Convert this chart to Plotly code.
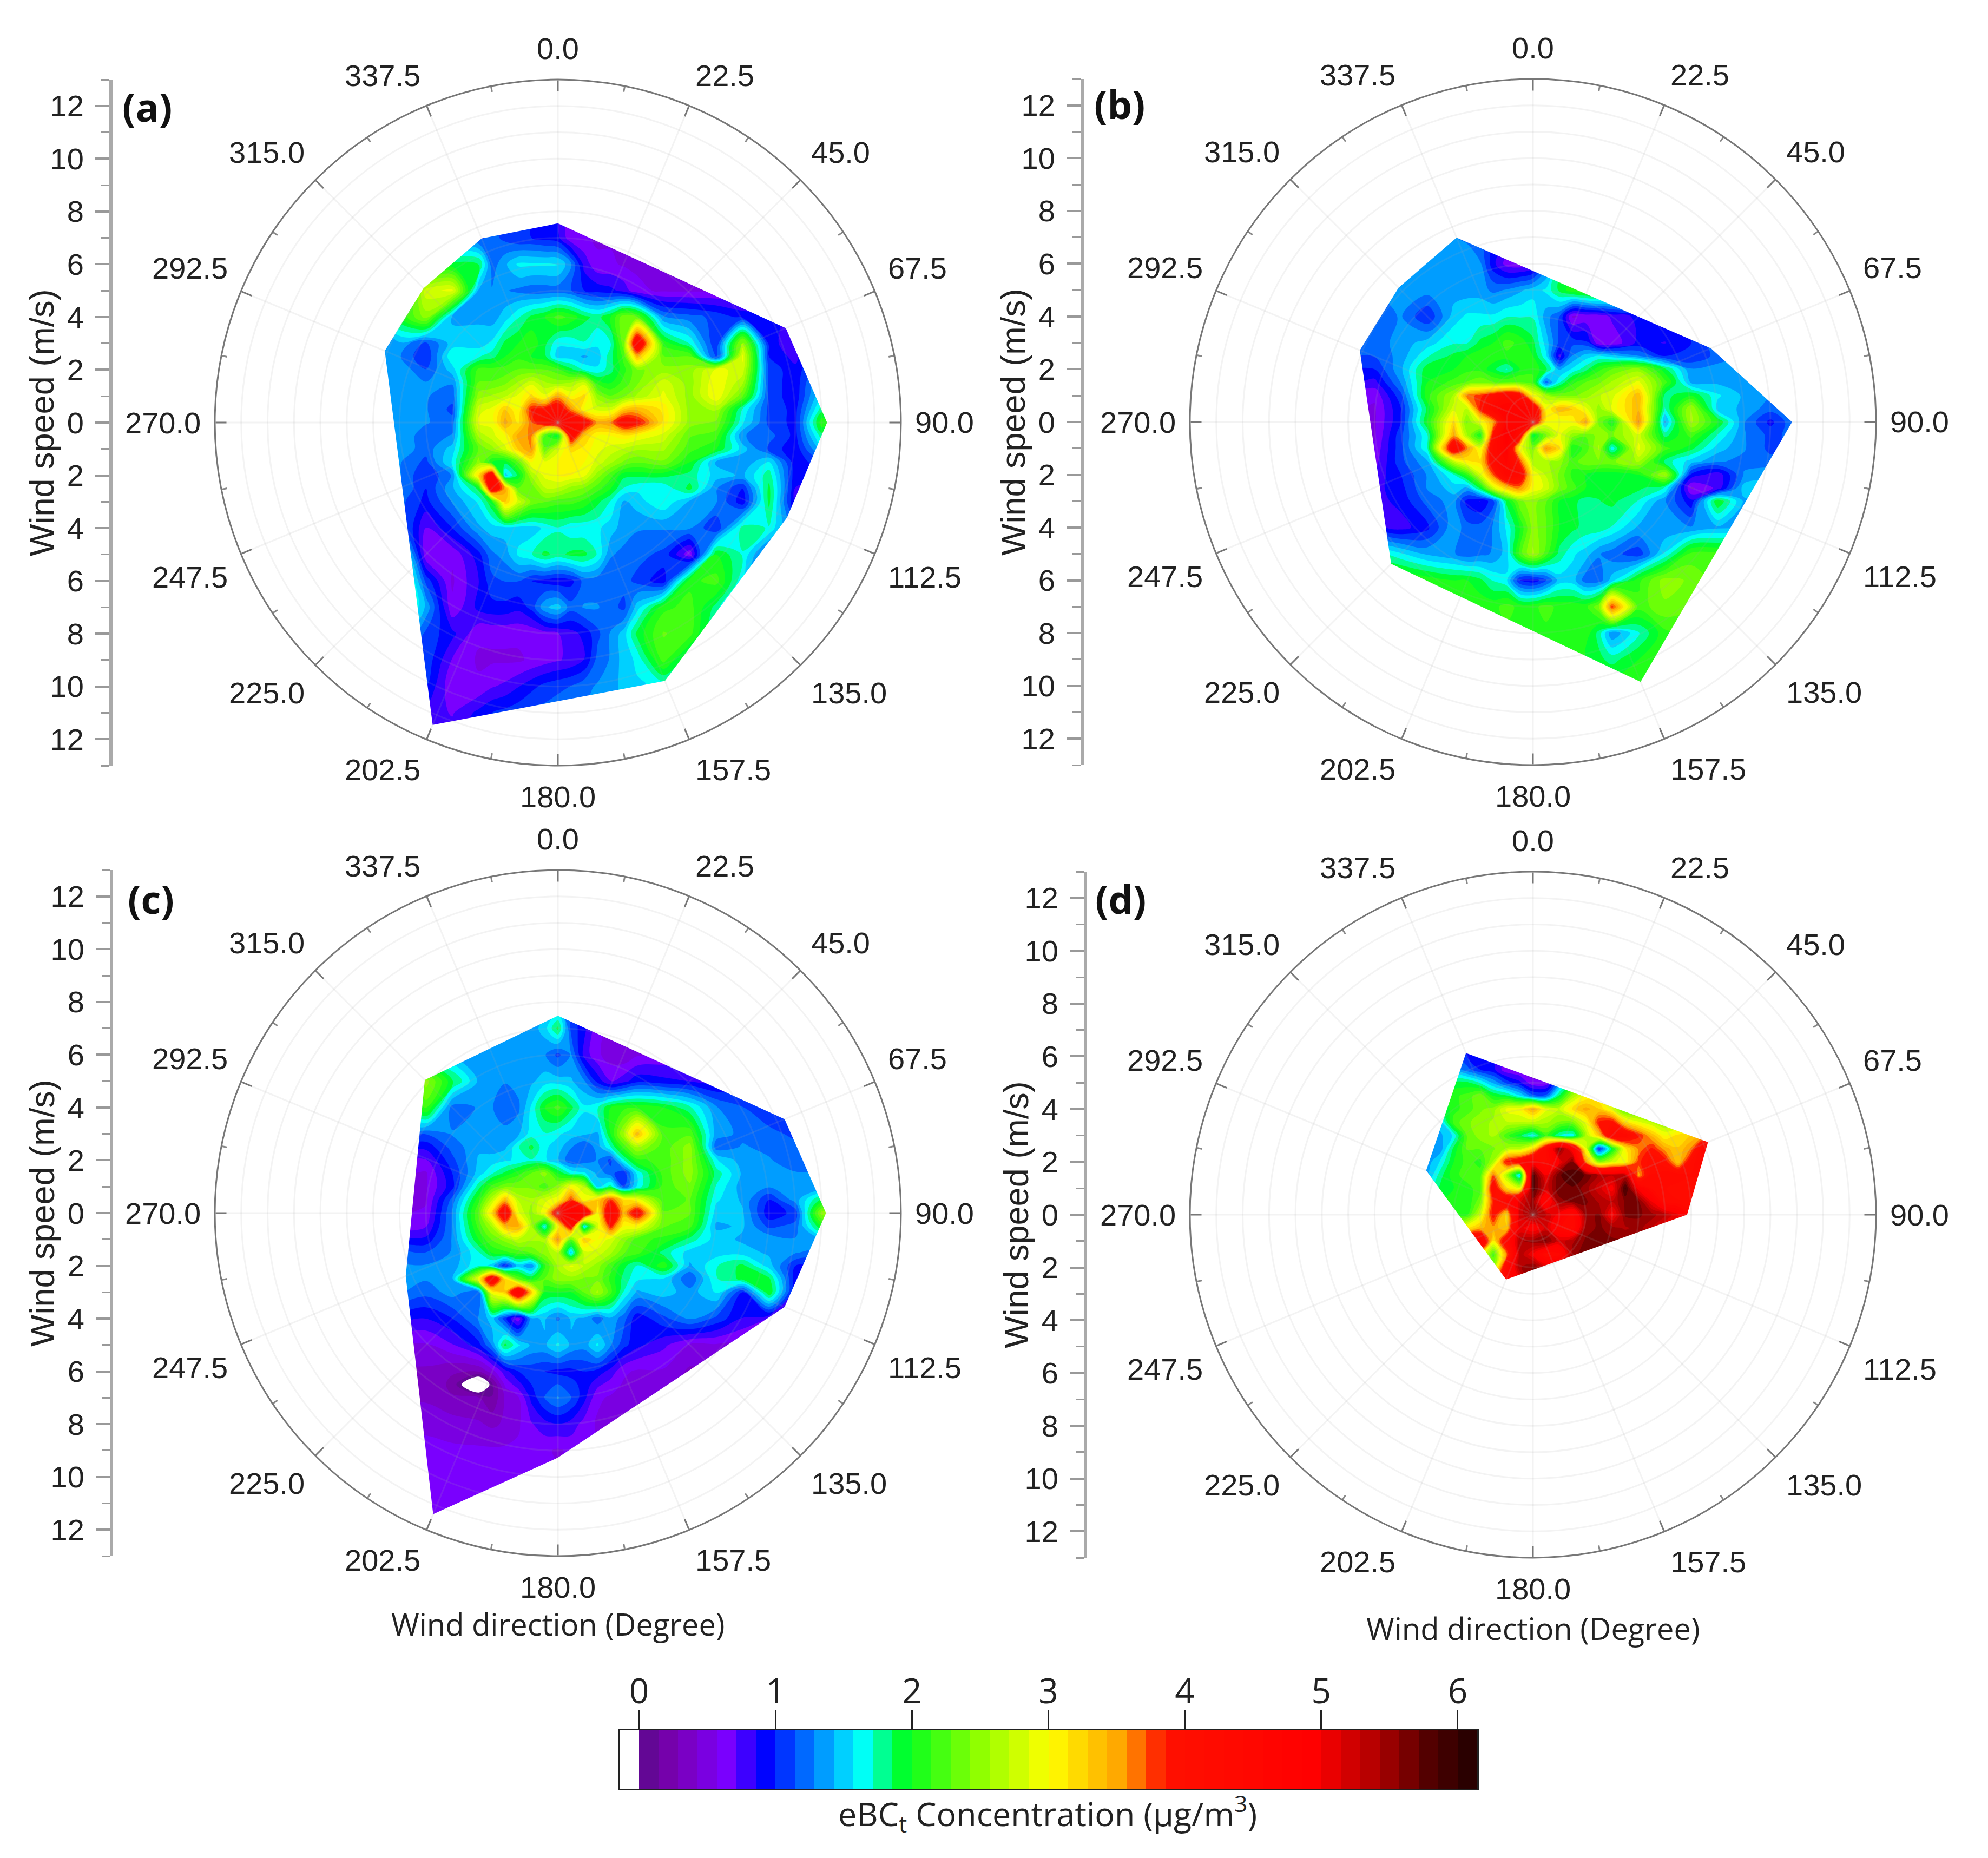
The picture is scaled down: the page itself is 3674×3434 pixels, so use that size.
import numpy as np
import plotly.graph_objects as go

WIDTH, HEIGHT = 3674, 3434

# grid the concentration was read on (m/s east / north of the origin)
xs_abc = [-7, -6, -5, -4, -3, -2.5, -2, -1.5, -1, -.5, 0, .5, 1, 1.5, 2, 2.5, 3, 4, 5, 6, 7, 8, 9, 10, 11]
ys_a = [8, 7, 6, 5, 4, 3, 2.5, 2, 1.5, 1, .5, 0, -.5, -1, -1.5, -2, -2.5, -3, -4, -5, -6, -7, -8, -9, -10, -11, -12]
ys_b = [8, 7, 6, 5, 4, 3, 2.5, 2, 1.5, 1, .5, 0, -.5, -1, -1.5, -2, -2.5, -3, -4, -5, -6, -7, -8, -9, -10, -11]
ys_c = [8, 7, 6, 5, 4, 3, 2.5, 2, 1.5, 1, .5, 0, -.5, -1, -1.5, -2, -2.5, -3, -4, -5, -6, -6.5, -7, -8, -9, -10, -11, -12]
xs_d = [-4.5, -4, -3.5, -3, -2.5, -2, -1.5, -1, -.5, 0, .5, 1, 1.5, 2, 2.5, 3, 3.5, 4, 4.5, 5, 5.5, 6, 6.5, 7]
ys_d = [7, 6.5, 6, 5.5, 5, 4.5, 4, 3.5, 3, 2.5, 2, 1.5, 1, .5, 0, -.5, -1, -1.5, -2, -2.5, -3]

conc_a = [
    [1.2,1.2,1.2,1.2,1.2, 1.2,1.1,1.0,1.0,.95, .9,.6,.6,.6,.6, .6,.6,.6,.6,.6, .6,.6,.6,.6,.6],
    [1.2,1.2,1.2,1.2,1.1, 1.2,1.1,1.0,1.0,.95, .9,.6,.6,.55,.55, .55,.55,.55,.55,.55, .55,.55,.55,.55,.55],
    [1.5,1.5,1.6,1.9,1.9, 1.2,1.4,1.6,1.6,1.6, 1.6,1.3,.8,.6,.6, .55,.55,.55,.55,.55, .55,.55,.55,.55,.55],
    [1.5,1.5,2.8,2.9,1.4, 1.3,1.3,1.25,1.2,1.2, 1.2,1.15,1.0,.95,.9, .8,.6,.55,.55,.55, .55,.55,.55,.55,.55],
    [1.3,2.0,2.5,1.4,1.4, 1.35,1.5,1.7,1.9,2.0, 2.2,2.1,1.9,1.8,2.0, 2.4,2.3,1.3,1.2,1.1, .95,.9,.8,.8,.8],
    [1.3,1.4,1.1,1.5,1.5, 1.6,1.9,2.0,2.1,1.9, 1.6,1.6,1.7,1.6,1.7, 2.4,4.5,2.1,1.7,1.0, 2.6,.95,.7,1.0,1.0],
    [1.3,1.3,1.0,1.7,1.7, 1.8,2.0,2.1,2.0,1.9, 1.5,1.5,1.4,1.5,1.8, 2.2,3.4,2.3,2.3,1.0, 2.9,1.0,.8,1.2,1.2],
    [1.3,1.4,1.15,1.5,2.2, 2.2,2.2,2.3,2.3,2.3, 2.2,1.9,1.7,1.6,1.8, 2.1,2.4,2.5,2.5,2.9, 2.8,1.1,.9,1.3,1.3],
    [1.3,1.4,1.3,1.3,2.3, 2.3,2.4,2.6,2.8,2.6, 2.5,2.6,2.8,2.1,2.0, 2.2,2.4,2.8,2.5,3.0, 2.6,1.1,.9,1.5,1.5],
    [1.4,1.4,1.3,1.2,2.5, 2.6,2.7,2.9,3.2,2.9, 3.5,3.0,3.2,2.5,2.3, 2.4,2.6,2.9,2.5,3.0, 2.3,1.1,.9,1.6,1.6],
    [1.4,1.4,1.3,1.1,2.8, 2.9,3.3,3.0,3.9,4.0, 4.2,3.6,3.0,2.8,2.8, 3.3,3.4,3.1,2.5,2.6, 1.7,1.1,.95,1.8,1.8],
    [1.4,1.4,1.3,1.2,2.9, 2.9,3.5,3.1,3.7,4.2, 4.5,4.4,4.2,3.5,3.6, 4.2,4.0,3.1,2.5,2.4, 1.6,1.1,.95,2.1,2.0],
    [1.4,1.4,1.2,1.3,2.6, 2.8,3.0,3.5,3.6,2.2, 1.9,4.2,3.3,3.0,3.0, 3.1,3.0,2.8,2.3,2.2, 1.3,1.2,.95,1.8,1.8],
    [1.4,1.4,1.2,1.5,2.3, 2.5,2.8,3.3,3.6,2.3, 2.8,3.2,3.1,2.9,2.8, 2.7,2.6,2.6,2.2,2.0, 1.5,1.1,.9,1.5,1.5],
    [1.4,1.3,1.1,1.6,2.5, 2.0,1.9,2.3,3.0,2.9, 3.0,3.0,3.0,2.8,2.6, 2.4,2.3,2.4,2.0,1.4, 1.3,1.6,.9,1.1,1.1],
    [1.4,1.3,1.0,1.3,3.2, 4.4,1.5,1.9,2.6,2.9, 3.0,3.0,2.9,2.5,2.2, 1.9,1.9,1.9,1.8,1.5, 1.4,1.8,.9,.9,.9],
    [1.4,1.3,1.0,1.4,1.9, 4.4,3.5,2.3,2.3,2.7, 2.7,2.5,2.4,2.2,2.0, 1.7,1.6,1.6,1.9,1.3, 1.0,1.9,.85,.8,.8],
    [1.4,1.2,.95,1.3,1.6, 2.0,3.3,2.8,2.4,2.3, 2.2,2.2,2.1,1.9,1.7, 1.4,1.5,1.7,1.4,1.3, .9,1.9,.8,.7,.7],
    [1.4,1.3,.7,1.0,1.4, 1.5,1.5,1.5,1.5,1.6, 1.7,1.6,1.6,1.6,1.5, 1.35,1.3,1.3,1.3,1.0, 1.8,1.7,1.1,.8,.8],
    [2.0,2.0,.6,.6,.95, 1.25,1.35,1.6,1.7,1.9, 1.8,1.9,1.9,1.7,1.3, 1.25,1.2,1.1,.6,2.0, 1.7,1.1,.9,.8,.8],
    [2.2,2.2,1.1,.55,.85, 1.1,1.15,1.15,1.0,.95, .9,.95,1.2,1.2,1.2, 1.2,1.1,.9,2.1,2.2, 1.6,.9,.9,.9,.9],
    [2.0,2.0,1.4,.6,.9, .95,.95,.9,1.05,1.4, 1.5,1.2,1.3,1.3,1.2, 1.1,1.5,2.1,2.2,1.8, 1.1,.9,.9,.9,.9],
    [1.6,1.6,1.1,.9,.6, .6,.6,.6,.6,.65, .7,.8,.9,1.1,1.3, 1.5,1.9,2.3,2.2,1.6, .9,.9,.9,.9,.9],
    [1.1,1.1,1.1,.7,.55, .55,.55,.55,.6,.65, .7,.75,.85,1.2,1.3, 1.5,1.6,2.2,1.7,1.5, .9,.9,.9,.9,.9],
    [1.0,1.0,1.0,.6,.6, .7,.75,.85,.95,1.05, 1.1,1.15,1.25,1.3,1.4, 1.45,1.55,1.6,1.7,1.6, .9,.9,.9,.9,.9],
    [.8,.8,.8,.7,.9, 1.0,1.05,1.1,1.2,1.2, 1.25,1.3,1.3,1.35,1.4, 1.45,1.5,1.6,1.6,1.6, 1.6,1.6,1.6,1.6,1.6],
    [.8,.8,.8,.8,1.0, 1.0,1.1,1.1,1.2,1.2, 1.3,1.3,1.3,1.4,1.4, 1.5,1.5,1.6,1.6,1.6, 1.6,1.6,1.6,1.6,1.6],
]

conc_b = [
    [1.3,1.3,1.3,1.3,1.3, 1.3,1.3,1.0,1.0,1.0, 1.0,1.0,1.0,1.0,1.0, 1.0,1.0,1.0,1.0,1.0, 1.0,1.0,1.0,1.0,1.0],
    [1.3,1.3,1.3,1.3,1.3, 1.25,1.2,1.0,.9,.8, .8,1.0,1.8,1.8,1.8, 1.8,1.8,1.8,1.8,1.8, 1.8,1.8,1.8,1.8,1.8],
    [1.3,1.3,1.3,1.3,1.4, 1.4,1.3,.9,.65,.6, .7,1.2,1.8,1.8,1.8, 1.8,1.8,1.8,1.8,1.8, 1.8,1.8,1.8,1.8,1.8],
    [1.3,1.3,1.3,1.35,1.35, 1.35,1.35,1.25,1.3,1.4, 1.5,1.6,1.9,2.1,2.2, 2.3,2.2,2.0,1.5,1.2, 1.2,1.2,1.2,1.2,1.2],
    [1.2,1.2,1.3,1.0,1.5, 1.6,1.6,1.6,1.7,1.7, 1.7,1.35,1.15,.55,.6, .6,.75,.9,1.0,1.1, 1.2,1.2,1.2,1.2,1.2],
    [1.15,1.2,1.35,1.5,1.7, 1.7,1.9,2.0,2.2,2.1, 1.9,1.5,1.1,1.1,1.05, .6,.6,.9,.85,1.0, 1.25,1.2,1.2,1.2,1.2],
    [1.15,1.15,1.35,1.7,1.9, 2.0,2.1,2.1,2.1,2.1, 2.0,1.6,.8,1.3,1.5, 1.6,1.5,1.3,1.0,1.0, 1.2,1.3,1.3,1.3,1.3],
    [1.0,1.0,1.4,1.95,2.0, 2.1,2.1,1.9,1.7,2.0, 2.1,1.9,1.4,1.6,1.8, 2.1,2.3,2.5,1.9,1.3, 1.35,1.35,1.3,1.3,1.3],
    [.9,.8,1.3,2.0,2.2, 2.3,2.4,2.3,2.3,2.3, 2.2,1.2,1.7,2.1,2.3, 2.4,2.6,2.9,2.2,1.4, 1.4,1.35,1.3,1.3,1.3],
    [.7,.6,1.1,2.1,2.6, 3.6,3.8,4.1,4.4,4.2, 3.0,2.6,2.4,2.4,2.5, 2.7,2.8,3.4,1.8,2.0, 1.6,1.4,1.3,1.3,1.3],
    [.6,.55,1.0,1.9,2.8, 2.7,3.9,4.5,4.7,4.7, 4.5,3.0,3.4,3.3,2.9, 2.5,2.9,3.4,1.7,2.6, 1.5,1.4,1.2,1.2,1.2],
    [.55,.55,1.0,2.0,3.2, 2.4,2.9,3.5,4.6,4.7, 4.4,3.0,2.9,3.0,3.5, 2.4,2.0,3.6,1.4,2.6, 2.0,1.3,.95,1.3,1.3],
    [.6,.55,1.1,1.7,3.5, 2.6,2.0,4.0,5.0,4.3, 1.9,2.4,2.9,2.5,2.3, 2.5,2.4,2.8,1.8,2.2, 1.7,1.3,1.1,1.2,1.2],
    [.65,.6,1.1,1.7,4.4, 3.6,2.9,4.3,4.8,3.0, 2.4,3.6,3.2,2.0,2.2, 2.6,1.6,2.9,2.2,1.9, 1.5,1.3,1.1,1.2,1.2],
    [.7,.65,1.1,1.4,2.7, 3.1,3.2,4.2,4.6,3.8, 2.6,2.6,2.5,2.2,2.4, 2.4,2.4,2.6,1.8,1.5, 1.3,1.25,1.2,1.2,1.2],
    [.8,.75,1.0,1.3,1.7, 2.1,2.8,3.7,4.5,4.3, 3.0,2.7,2.4,2.1,2.0, 1.9,1.9,2.0,2.6,.95, .75,1.3,1.4,1.4,1.4],
    [.8,.8,.95,1.3,1.5, 1.4,1.9,2.8,3.3,3.6, 3.0,2.8,2.4,2.2,2.0, 1.9,1.9,1.9,1.7,.55, .75,1.5,1.5,1.5,1.5],
    [.8,.8,.9,1.2,1.35, .95,.85,1.1,1.9,2.4, 2.5,2.3,2.0,1.9,1.8, 1.85,1.9,1.7,1.3,.9, 2.0,1.4,1.3,1.3,1.3],
    [.9,.9,.8,.95,1.4, 1.2,1.2,1.3,1.6,2.0, 2.5,2.3,2.0,1.9,1.8, 1.8,1.7,1.4,1.3,1.3, 1.4,1.4,1.3,1.3,1.3],
    [1.9,1.8,1.6,1.4,1.3, 1.2,1.25,1.3,1.5,2.2, 2.6,2.2,1.8,1.6,1.5, 1.3,1.2,1.05,1.6,2.2, 2.2,2.2,2.2,2.2,2.2],
    [2.2,2.2,2.2,2.1,2.0, 2.0,1.9,1.7,1.6,1.0, .9,1.1,1.5,1.5,1.2, 1.2,1.5,2.1,2.5,2.4, 2.2,2.2,2.2,2.2,2.2],
    [2.1,2.1,2.1,2.1,2.1, 2.1,2.1,2.1,2.2,2.1, 2.1,2.2,2.1,2.1,2.1, 2.4,3.8,2.2,2.4,2.3, 2.2,2.2,2.2,2.2,2.2],
    [2.1,2.1,2.1,2.1,2.1, 2.1,2.1,2.1,2.1,2.1, 2.1,2.1,2.1,2.1,2.1, 1.8,1.3,1.7,2.1,2.2, 2.2,2.2,2.2,2.2,2.2],
    [2.1,2.1,2.1,2.1,2.1, 2.1,2.1,2.1,2.1,2.1, 2.1,2.1,2.1,2.1,2.0, 1.9,1.8,2.0,2.1,2.1, 2.1,2.1,2.1,2.1,2.1],
    [2.1,2.1,2.1,2.1,2.1, 2.1,2.1,2.1,2.1,2.1, 2.1,2.1,2.1,2.1,2.1, 2.1,2.1,2.1,2.1,2.1, 2.1,2.1,2.1,2.1,2.1],
    [2.1,2.1,2.1,2.1,2.1, 2.1,2.1,2.1,2.1,2.1, 2.1,2.1,2.1,2.1,2.1, 2.1,2.1,2.1,2.1,2.1, 2.1,2.1,2.1,2.1,2.1],
]

conc_c = [
    [1.3,1.3,1.3,1.3,1.3, 1.3,1.3,1.3,1.35,1.3, 1.3,1.1,.9,.6,.6, .6,.6,.6,.6,.6, .6,.6,.6,.6,.6],
    [1.4,1.4,1.4,1.4,1.4, 1.35,1.35,1.35,1.35,1.5, 1.9,1.1,.9,.6,.55, .5,.5,.6,.6,.6, .6,.6,.6,.6,.6],
    [1.4,1.4,1.4,1.4,1.35, 1.35,1.35,1.3,1.3,1.3, 1.1,1.3,.8,.6,.5, .45,.55,.6,.6,.6, .6,.6,.6,.6,.6],
    [1.7,1.7,2.5,1.9,1.4, 1.3,1.3,1.35,1.4,1.5, 1.5,1.45,1.3,.95,.7, .8,.95,.9,.85,.8, .85,.85,.85,.85,.85],
    [1.6,1.6,2.2,1.2,1.3, 1.3,1.15,1.25,1.6,2.0, 2.2,1.9,1.6,1.7,2.0, 2.1,2.1,2.0,1.75,1.3, 1.15,1.0,.95,.9,.9],
    [1.3,1.3,1.15,1.3,1.35, 1.3,1.35,1.4,1.65,1.7, 1.6,1.5,1.45,1.4,2.0, 2.6,3.4,2.2,2.25,1.35, 1.25,1.2,1.1,1.1,1.1],
    [.9,.9,.9,1.2,1.4, 1.35,1.4,1.7,1.9,1.6, 1.5,1.3,1.15,1.35,1.7, 2.2,2.6,2.2,2.5,1.2, 1.3,1.25,1.2,1.2,1.2],
    [.7,.7,.7,1.1,1.45, 1.5,1.55,1.6,1.7,1.6, 1.45,1.15,1.2,1.3,1.1, 1.7,2.1,2.2,2.5,1.6, 1.35,1.3,1.2,1.2,1.2],
    [.6,.6,.55,1.0,1.5, 1.7,1.9,2.1,2.3,2.5, 2.0,1.7,1.6,1.4,1.2, 1.0,1.6,2.2,2.5,1.8, 1.4,1.35,1.3,1.3,1.3],
    [.55,.55,.55,.95,1.8, 2.2,2.4,2.4,2.4,2.2, 2.5,3.0,2.7,1.5,1.8, 1.1,1.6,2.2,2.4,1.7, 1.35,1.3,1.3,1.3,1.3],
    [.55,.55,.55,1.2,2.1, 2.7,3.4,2.7,2.6,2.8, 3.0,3.8,3.0,3.3,3.8, 3.2,3.0,2.2,2.3,1.6, 1.4,1.0,1.35,1.9,1.9],
    [.55,.55,.6,1.3,2.3, 3.2,4.4,2.9,2.5,3.0, 4.3,4.8,4.6,3.0,4.5, 3.4,4.2,2.3,2.3,1.5, 1.45,.9,1.05,2.5,2.5],
    [.6,.6,.7,1.3,2.2, 2.6,3.4,3.5,2.6,1.6, 3.0,4.2,1.5,2.8,3.9, 3.0,3.0,2.3,2.2,1.4, 1.45,1.1,1.2,2.0,2.0],
    [.9,.9,.9,1.3,2.0, 2.3,2.5,2.7,2.6,2.6, 3.6,2.3,3.3,3.0,2.8, 2.5,2.2,2.1,1.8,1.5, 1.4,1.4,1.3,1.4,1.4],
    [1.2,1.2,1.15,1.3,1.7, 2.0,2.1,2.2,2.3,2.5, 2.7,1.5,2.8,2.8,2.6, 2.3,2.2,1.8,1.5,1.5, 1.5,1.4,1.3,1.2,1.2],
    [1.3,1.3,1.3,1.35,1.7, 1.5,1.0,1.5,1.3,2.1, 2.6,2.9,2.7,2.5,2.2, 1.9,1.7,2.1,1.4,1.7, 1.9,1.5,1.0,1.0,1.0],
    [1.3,1.3,1.3,1.4,3.0, 4.5,3.2,2.3,2.0,2.3, 2.5,2.5,2.4,2.4,2.1, 1.8,1.6,1.55,1.15,1.7, 1.9,1.9,.9,.9,.9],
    [1.3,1.3,1.2,1.35,1.2, 3.0,3.3,4.6,3.3,2.0, 2.0,2.0,2.3,2.6,2.2, 1.7,1.4,1.5,1.35,1.6, 1.0,2.0,.85,.85,.85],
    [.9,.9,.85,1.0,1.3, 1.5,1.05,.6,1.4,1.45, 1.25,1.45,1.4,1.2,1.4, 1.2,.9,1.1,1.3,1.1, .85,.7,.6,.6,.6],
    [.55,.55,.55,.7,.95, 1.3,1.9,1.6,1.4,1.4, 1.6,1.4,1.35,1.6,1.3, 1.05,.9,.75,.55,.55, .5,.5,.5,.5,.5],
    [.4,.4,.4,.3,.3, .5,.8,1.0,1.05,1.0, .95,.95,1.0,.95,.8, .6,.55,.55,.4,.45, .5,.5,.5,.5,.5],
    [.4,.4,.4,.25,-.45, .1,.6,.8,1.0,1.1, 1.15,1.05,.95,.75,.65, .55,.5,.5,.4,.45, .5,.5,.5,.5,.5],
    [.4,.4,.4,.3,.3, .15,.45,.55,.9,1.15, 1.3,1.15,.9,.6,.55, .55,.5,.5,.5,.5, .5,.5,.5,.5,.5],
    [.55,.55,.55,.5,.45, .4,.45,.55,.7,.8, .85,.8,.65,.55,.55, .55,.55,.55,.55,.55, .55,.55,.55,.55,.55],
    [.6,.6,.6,.6,.6, .6,.6,.6,.6,.6, .55,.6,.6,.6,.6, .6,.6,.6,.6,.6, .6,.6,.6,.6,.6],
    [.6,.6,.6,.6,.6, .6,.6,.6,.6,.6, .6,.6,.6,.6,.6, .6,.6,.6,.6,.6, .6,.6,.6,.6,.6],
    [.6,.6,.6,.6,.6, .6,.6,.6,.6,.6, .6,.6,.6,.6,.6, .6,.6,.6,.6,.6, .6,.6,.6,.6,.6],
    [.6,.6,.6,.6,.6, .6,.6,.6,.6,.6, .6,.6,.6,.6,.6, .6,.6,.6,.6,.6, .6,.6,.6,.6,.6],
]

conc_d = [
    [1.0,1.0,1.0,1.0, 1.0,.9,.9,.8, .6,.6,.6,.6, .6,.6,.6,.6, .6,.6,.6,.6, .6,.6,.6,.6],
    [1.0,1.0,1.0,1.0, 1.0,.9,.9,.8, .6,.6,.6,.6, .6,.6,.6,.6, .6,.6,.6,.6, .6,.6,.6,.6],
    [1.2,1.2,1.2,1.2, 1.0,.95,.9,.7, .6,.55,.55,.6, .6,.6,.6,.6, .6,.6,.6,.6, .6,.6,.6,.6],
    [1.4,1.4,1.4,1.4, 1.2,1.0,.9,.6, .55,.5,.5,1.0, 1.8,2.0,2.0,2.0, 2.0,2.0,2.0,2.0, 2.0,2.0,2.0,2.0],
    [1.6,1.7,1.7,1.9, 1.9,1.7,1.4,1.1, .9,.6,.6,1.3, 2.0,2.4,2.4,2.4, 2.4,2.4,2.4,2.4, 2.4,2.4,2.4,2.4],
    [1.6,1.6,1.9,2.1, 2.2,2.4,2.0,1.9, 1.6,1.2,1.2,1.9, 2.6,3.0,3.0,2.8, 2.5,2.5,2.5,2.5, 2.5,2.5,2.5,2.5],
    [1.4,1.6,1.8,2.1, 2.2,2.4,2.5,2.9, 3.0,3.5,2.9,2.7, 3.2,3.5,3.3,2.9, 2.2,2.2,2.2,2.2, 2.2,2.2,2.2,2.2],
    [1.45,1.45,1.5,2.2, 2.4,2.5,2.6,2.7, 2.7,2.7,2.6,2.4, 2.4,2.9,3.9,4.0, 3.2,2.9,2.7,2.5, 2.5,2.5,2.5,2.5],
    [1.35,1.35,1.4,1.6, 2.3,2.5,2.6,2.2, 1.9,1.6,2.2,1.7, 1.6,2.6,3.3,4.4, 4.4,3.9,3.4,3.0, 3.2,3.3,3.5,3.5],
    [1.3,1.3,1.35,1.9, 2.3,2.3,2.4,2.6, 2.7,3.2,4.3,5.6, 4.8,2.9,1.0,1.9, 3.1,3.6,3.9,3.5, 3.3,3.6,4.6,5.5],
    [1.3,1.35,1.6,2.0, 2.2,2.1,2.6,4.0, 4.3,4.8,4.4,5.0, 5.6,3.6,2.5,2.8, 3.0,3.8,4.1,4.0, 3.3,4.2,4.5,4.5],
    [1.3,1.4,1.8,2.1, 2.2,2.2,3.7,2.6, 1.5,5.8,5.0,5.7, 5.8,5.7,5.4,5.3, 5.3,3.5,4.3,4.4, 4.4,4.3,4.3,4.3],
    [1.4,1.6,1.9,2.0, 2.1,2.2,4.2,3.2, 2.9,5.8,5.2,5.7, 5.7,5.5,5.2,4.9, 5.9,4.9,4.4,4.3, 4.2,4.2,4.2,4.2],
    [1.6,1.8,2.0,2.0, 2.0,2.4,3.9,4.5, 5.1,5.5,4.6,5.5, 5.6,5.6,5.4,5.3, 5.6,5.6,5.0,4.4, 4.3,4.3,4.3,4.3],
    [2.0,2.0,2.0,2.1, 2.1,2.8,4.0,3.2, 5.2,5.5,5.3,4.9, 4.5,5.5,5.6,4.9, 5.6,5.6,5.5,5.3, 5.0,4.5,4.5,4.5],
    [2.5,2.5,2.6,2.8, 3.1,3.4,3.5,3.3, 5.0,4.8,5.2,4.6, 4.4,5.5,5.6,5.5, 5.4,5.5,5.3,5.0, 5.0,5.0,5.0,5.0],
    [4.0,4.0,4.0,4.2, 4.5,4.7,3.1,4.3, 5.4,5.5,5.6,5.2, 5.4,5.6,5.6,5.6, 5.6,5.6,5.6,5.6, 5.6,5.6,5.6,5.6],
    [3.0,3.0,3.0,3.1, 3.2,3.2,2.2,3.6, 5.4,5.0,4.4,4.5, 5.5,5.7,5.8,5.8, 5.8,5.8,5.8,5.8, 5.8,5.8,5.8,5.8],
    [2.5,2.5,2.5,2.5, 2.5,2.5,2.5,4.4, 5.4,5.6,5.2,5.4, 5.8,5.8,5.8,5.8, 5.8,5.8,5.8,5.8, 5.8,5.8,5.8,5.8],
    [3.0,3.0,3.0,3.0, 3.0,3.0,3.5,4.5, 5.0,5.6,5.7,5.8, 5.8,5.8,5.8,5.8, 5.8,5.8,5.8,5.8, 5.8,5.8,5.8,5.8],
    [4.5,4.5,4.5,4.5, 4.5,4.5,4.5,4.5, 5.0,5.6,5.7,5.8, 5.8,5.8,5.8,5.8, 5.8,5.8,5.8,5.8, 5.8,5.8,5.8,5.8],
]

# outer limit of the sampled wind field: direction (deg) and speed (m/s)
hull_dir_a = [0, 67.5, 90, 112.5, 157.5, 202.5, 292.5, 315, 337.5]
hull_speed_a = [7.55, 9.35, 10.2, 9.4, 10.6, 12.4, 7.1, 7.2, 7.55]
hull_dir_b = [67.5, 90, 157.5, 225, 292.5, 315, 337.5]
hull_speed_b = [7.3, 9.82, 10.66, 7.6, 7.1, 7.2, 7.56]
hull_dir_c = [0, 67.5, 90, 112.5, 180, 202.5, 247.5, 315]
hull_speed_c = [7.48, 9.3, 10.16, 9.3, 9.27, 12.35, 6.24, 7.13]
hull_dir_d = [67.5, 90, 202.5, 292.5, 337.5]
hull_speed_d = [7.18, 5.84, 2.66, 4.38, 6.63]

panel_names = ["(a)", "(b)", "(c)", "(d)"]
speed_ticks = [-12, -10, -8, -6, -4, -2, 0, 2, 4, 6, 8, 10, 12]
direction_ticks = [22.5 * i for i in range(16)]
direction_labels = [f"{d:.1f}" for d in direction_ticks]
label_xanchor = ["center", "left", "left", "left", "left", "left", "left", "left", "center",
                 "right", "right", "right", "right", "right", "right", "right"]
label_yanchor = ["bottom", "bottom", "bottom", "bottom", "middle", "top", "top", "top", "top",
                 "top", "top", "top", "middle", "bottom", "bottom", "bottom"]

color_values = [0, .25, .65, .92, 1.2, 1.63, 1.95, 2.5, 3.0, 3.55, 3.85, 4.95, 5.4, 5.8, 6.14]
color_hexes = ["#5a0a8a", "#7a00b0", "#7a00ff", "#0000ff", "#0064ff", "#00ffff", "#00ff20",
               "#90ff00", "#ffff00", "#ffa000", "#ff1000", "#ff0000", "#b00000", "#500000", "#200000"]

STEP = 1 / 7
Z_LOW, Z_HIGH = -STEP, 6 + STEP
colorscale = [[0, "#ffffff"], [(0 - Z_LOW) / (Z_HIGH - Z_LOW) - 1e-4, "#ffffff"]]
for v, c in zip(color_values, color_hexes):
    colorscale.append([(v - Z_LOW) / (Z_HIGH - Z_LOW), c])
colorscale[-1][0] = 1

R = 634
FONT = "Liberation Sans"
TEXT = "#222222"
GRID = "rgba(170,170,170,0.14)"
RADIUS = 13
PX_PER_MS = R / RADIUS

# centre x, centre y, speed axis x (all in page px)
placements = [(1031, 781, 205), (2833, 780, 2000), (1031, 2242, 206), (2833, 2245, 2006)]
label_xy = [(272, 197), (2069, 192), (279, 1661), (2071, 1661)]
fields = [(xs_abc, ys_a, conc_a, hull_dir_a, hull_speed_a),
          (xs_abc, ys_b, conc_b, hull_dir_b, hull_speed_b),
          (xs_abc, ys_c, conc_c, hull_dir_c, hull_speed_c),
          (xs_d, ys_d, conc_d, hull_dir_d, hull_speed_d)]

fig = go.Figure()
layout_parts = {}
notes = []

for i, ((cx, cy, ax_x), (xs, ys, conc, hdir, hspeed)) in enumerate(zip(placements, fields)):
    n = "" if i == 0 else str(i + 1)
    dom_x = [(cx - R) / WIDTH, (cx + R) / WIDTH]
    dom_y = [1 - (cy + R) / HEIGHT, 1 - (cy - R) / HEIGHT]

    fig.add_trace(go.Contour(
        x=xs, y=ys, z=conc, xaxis=f"x{n}", yaxis=f"y{n}",
        colorscale=colorscale, zmin=Z_LOW, zmax=Z_HIGH, autocontour=False,
        contours=dict(start=Z_LOW, end=Z_HIGH, size=STEP, coloring="fill", showlines=False),
        line=dict(width=0, smoothing=1), hoverinfo="skip", showscale=False,
    ))

    # white out everything beyond the sampled wind field
    th = np.radians(hdir)
    hx = np.array(hspeed) * np.sin(th)
    hy = np.array(hspeed) * np.cos(th)
    fig.add_trace(go.Scatter(
        x=[-RADIUS, RADIUS, RADIUS, -RADIUS, -RADIUS] + list(hx[::-1]) + [hx[-1], -RADIUS],
        y=[RADIUS, RADIUS, -RADIUS, -RADIUS, RADIUS] + list(hy[::-1]) + [hy[-1], RADIUS],
        mode="none", fill="toself", fillcolor="white", xaxis=f"x{n}", yaxis=f"y{n}",
        hoverinfo="skip", showlegend=False,
    ))

    minor_theta, minor_r = [], []
    for d in direction_ticks:
        minor_theta += [d + 11.25, d + 11.25, None]
        minor_r += [RADIUS, RADIUS - .22, None]
    fig.add_trace(go.Scatterpolar(
        theta=minor_theta, r=minor_r, mode="lines", subplot=f"polar{n}",
        line=dict(color="#888888", width=3), hoverinfo="skip", showlegend=False,
    ))

    # direction labels just outside the rim
    for d, text, xa, ya in zip(direction_ticks, direction_labels, label_xanchor, label_yanchor):
        a = np.radians(d)
        notes.append(dict(text=text, x=(cx + 13.5 * PX_PER_MS * np.sin(a)) / WIDTH,
                          y=1 - (cy - 13.5 * PX_PER_MS * np.cos(a)) / HEIGHT,
                          xanchor=xa, yanchor=ya, font=dict(family=FONT, size=56, color=TEXT)))

    layout_parts[f"xaxis{n}"] = dict(domain=dom_x, range=[-RADIUS, RADIUS], visible=False, anchor=f"y{n}")
    layout_parts[f"yaxis{n}"] = dict(
        domain=dom_y, range=[-RADIUS, RADIUS], anchor="free", position=ax_x / WIDTH, side="left",
        tickvals=speed_ticks, ticktext=[str(abs(v)) for v in speed_ticks],
        ticks="outside", ticklen=26, tickwidth=4, tickcolor="#999999", ticklabelstandoff=10,
        minor=dict(dtick=1, ticks="outside", ticklen=15, tickwidth=3, tickcolor="#999999"),
        showline=True, linecolor="#aaaaaa", linewidth=6, showgrid=False, zeroline=False,
        tickfont=dict(family=FONT, size=56, color=TEXT),
    )
    layout_parts[f"polar{n}"] = dict(
        domain=dict(x=dom_x, y=dom_y), bgcolor="rgba(0,0,0,0)",
        radialaxis=dict(range=[0, RADIUS], tickvals=list(range(1, 14)), showticklabels=False, ticks="",
                        showline=False, gridcolor=GRID, gridwidth=3),
        angularaxis=dict(rotation=90, direction="clockwise", tickvals=direction_ticks, showticklabels=False,
                         ticks="inside", ticklen=20, tickwidth=3, tickcolor="#777777",
                         linecolor="#777777", linewidth=3, gridcolor=GRID, gridwidth=3),
    )

    notes.append(dict(text=panel_names[i], x=label_xy[i][0] / WIDTH, y=1 - label_xy[i][1] / HEIGHT,
                      font=dict(family="Open Sans", size=72, color="#111111", weight="bold")))
    notes.append(dict(text="Wind speed (m/s)", x=(ax_x - 128) / WIDTH, y=1 - cy / HEIGHT, textangle=-90,
                      font=dict(family=FONT, size=63, color=TEXT)))

# concentration scale: one strip of the same bands, ticks on top
band_edges = [Z_LOW + STEP * k for k in range(45)]
band_mids = [(a + b) / 2 for a, b in zip(band_edges[:-1], band_edges[1:])]
fig.add_trace(go.Heatmap(
    x=band_edges, y=[0, 1], z=[band_mids], xaxis="x5", yaxis="y5",
    colorscale=colorscale, zmin=Z_LOW, zmax=Z_HIGH, showscale=False, hoverinfo="skip",
))
layout_parts["xaxis5"] = dict(
    domain=[1145 / WIDTH, 2730 / WIDTH], range=[Z_LOW, Z_HIGH], side="top", anchor="y5",
    tickvals=[0, 1, 2, 3, 4, 5, 6], ticks="outside", ticklen=35, tickwidth=3, tickcolor="#222222",
    ticklabelstandoff=-14,
    showline=True, linecolor="#222222", linewidth=3, mirror=True, showgrid=False, zeroline=False,
    tickfont=dict(family="Open Sans", size=64, color=TEXT),
)
layout_parts["yaxis5"] = dict(
    domain=[1 - 3306 / HEIGHT, 1 - 3198 / HEIGHT], range=[0, 1], anchor="x5", showticklabels=False, ticks="",
    showline=True, linecolor="#222222", linewidth=3, mirror=True, showgrid=False, zeroline=False,
)

notes.append(dict(text="eBC<sub>t</sub> Concentration (μg/m<sup>3</sup>)", x=1936 / WIDTH, y=1 - 3351 / HEIGHT,
                  font=dict(family="Open Sans", size=61, color=TEXT)))
notes.append(dict(text="Wind direction (Degree)", x=1031 / WIDTH, y=1 - 3001 / HEIGHT,
                  font=dict(family="Open Sans", size=56, color=TEXT)))
notes.append(dict(text="Wind direction (Degree)", x=2833 / WIDTH, y=1 - 3009 / HEIGHT,
                  font=dict(family="Open Sans", size=56, color=TEXT)))
for note in notes:
    note.update(xref="paper", yref="paper", showarrow=False)
    note.setdefault("xanchor", "center")
    note.setdefault("yanchor", "middle")

fig.update_layout(
    width=WIDTH, height=HEIGHT, margin=dict(l=0, r=0, t=0, b=0),
    paper_bgcolor="white", plot_bgcolor="white", showlegend=False,
    annotations=notes, **layout_parts,
)

fig.write_html("out.html", post_script="document.body.style.margin = '0';",
               config={"displayModeBar": False})
